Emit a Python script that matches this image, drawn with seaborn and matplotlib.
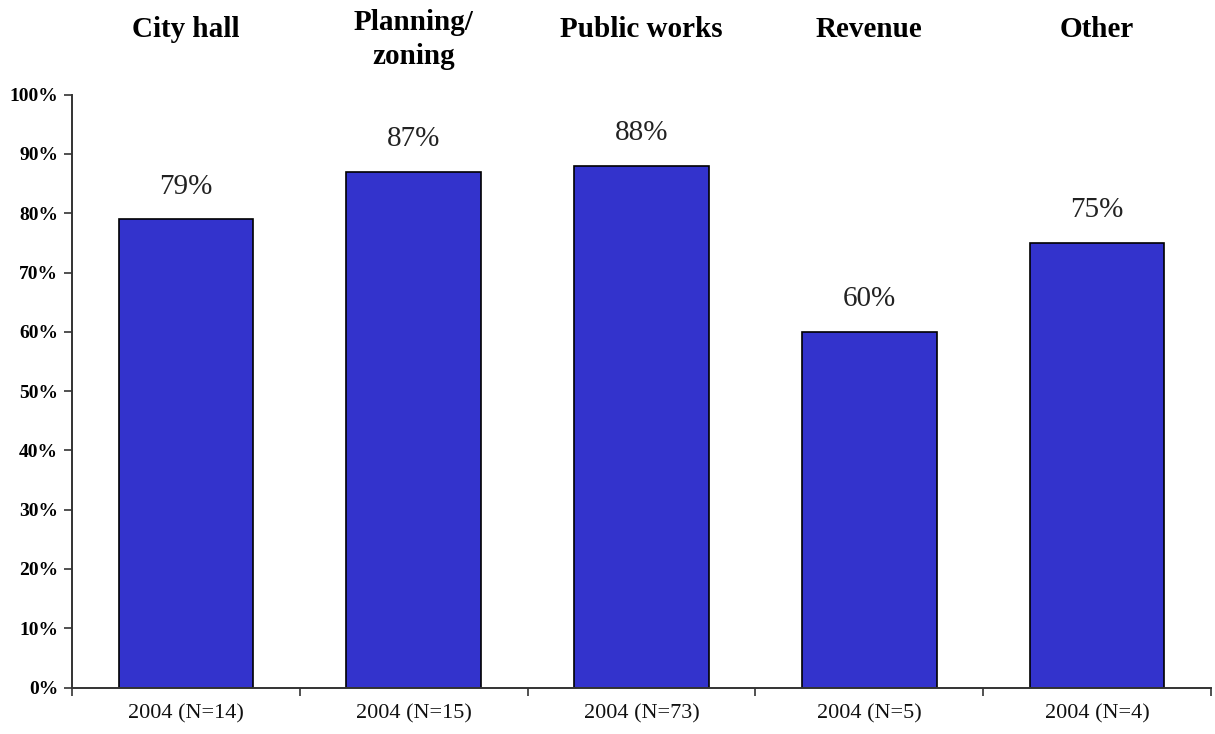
import matplotlib
matplotlib.use("Agg")
import matplotlib.pyplot as plt
import matplotlib.ticker as mticker
import seaborn as sns
import pandas as pd

# Share of respondents by department, 2004 survey
departments = ["City hall", "Planning/\nzoning", "Public works", "Revenue", "Other"]
sample_labels = ["2004 (N=14)", "2004 (N=15)", "2004 (N=73)", "2004 (N=5)", "2004 (N=4)"]
shares = [79, 87, 88, 60, 75]
y_ticks = [0, 10, 20, 30, 40, 50, 60, 70, 80, 90, 100]

df = pd.DataFrame({"sample": sample_labels, "share": shares})

sns.set_style("white")
plt.rcParams["font.family"] = ["Liberation Serif", "DejaVu Serif"]

fig = plt.figure(figsize=(12.15, 7.34), dpi=100)
ax = fig.add_axes([72 / 1215, 1 - 687.5 / 734, (1211 - 72) / 1215, (687.5 - 94.7) / 734])

sns.barplot(data=df, x="sample", y="share", ax=ax, color="#3333CC",
            saturation=1, width=0.59, edgecolor="black", linewidth=1.2)

ax.set_xlim(-0.5, len(shares) - 0.5)
ax.set_ylim(0, 100)
ax.set_yticks(y_ticks)
ax.yaxis.set_major_formatter(mticker.FuncFormatter(lambda v, _: f"{v:.0f}%"))
ax.set_xlabel("")
ax.set_ylabel("")

# boundary ticks between categories on the x axis
ax.set_xticks([i - 0.5 for i in range(len(shares) + 1)], minor=False)
ax.set_xticklabels([])
ax.set_xticks(range(len(shares)), minor=True)
ax.set_xticklabels(sample_labels, minor=True, fontsize=16, color="#111111")
ax.tick_params(axis="x", which="minor", bottom=False, length=0, pad=12)
ax.tick_params(axis="x", which="major", bottom=True, direction="out", length=6,
               width=1.2, color="#333333")
ax.tick_params(axis="y", left=True, direction="out", length=6, width=1.2,
               color="#333333", pad=4, labelcolor="black")
for lab in ax.get_yticklabels():
    lab.set_fontweight("bold")
    lab.set_fontsize(14)

for side in ["top", "right"]:
    ax.spines[side].set_visible(False)
for side in ["left", "bottom"]:
    ax.spines[side].set_color("#333333")
    ax.spines[side].set_linewidth(1.4)

# value labels above each bar
for i, v in enumerate(shares):
    ax.text(i, v + 5.5, f"{v}%", ha="center", va="center", fontsize=21, color="#222222")

# department headers above the plot
for i, name in enumerate(departments):
    ypos = 1.093 if "\n" in name else 1.11
    ax.text(i, ypos, name, transform=ax.get_xaxis_transform(), ha="center", va="center",
            fontsize=21, fontweight="bold", color="black", linespacing=1.3)

fig.savefig("out.png", dpi=100)
